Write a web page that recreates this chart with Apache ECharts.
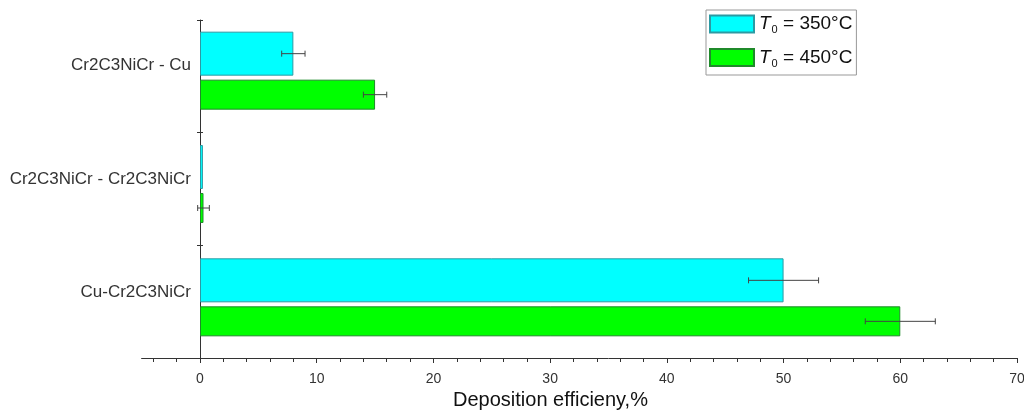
<!DOCTYPE html>
<html>
<head>
<meta charset="utf-8">
<script src="https://cdn.jsdelivr.net/npm/echarts@6/dist/echarts.min.js"></script>
<style>
  html, body { margin: 0; padding: 0; background: #fff; }
  #chart { width: 1024px; height: 412px; }
</style>
</head>
<body>
<div id="chart"></div>
<script>
// data, bottom to top
const categories = ['Cu-Cr2C3NiCr', 'Cr2C3NiCr - Cr2C3NiCr', 'Cr2C3NiCr - Cu'];
const eff350 = [50, 0.25, 8];
const eff450 = [60, 0.3, 15];
const err350 = [3, 0, 1];
const err450 = [3, 0.5, 1];
const xTicks = [0, 10, 20, 30, 40, 50, 60, 70];

const font = 'Liberation Sans, Arial, sans-serif';
const W350 = 44, W450 = 30, GAP = 4;
// centre offsets of each bar inside the group (first series on top)
const total = W350 + GAP + W450;
const off350 = -total / 2 + W350 / 2;
const off450 = -total / 2 + W350 + GAP + W450 / 2;

const chart = echarts.init(document.getElementById('chart'));

function errData(vals, errs) {
  return vals.map((v, i) => [i, v - errs[i], v + errs[i], errs[i]]);
}

function errRender(offset) {
  return function (params, api) {
    if (!api.value(3)) return null;
    const lo = api.coord([api.value(1), api.value(0)]);
    const hi = api.coord([api.value(2), api.value(0)]);
    const y = lo[1] + offset;
    const st = { stroke: '#444', lineWidth: 1 };
    return {
      type: 'group',
      children: [
        { type: 'line', shape: { x1: lo[0], y1: y, x2: hi[0], y2: y }, style: st },
        { type: 'line', shape: { x1: lo[0], y1: y - 3, x2: lo[0], y2: y + 3 }, style: st },
        { type: 'line', shape: { x1: hi[0], y1: y - 3, x2: hi[0], y2: y + 3 }, style: st }
      ]
    };
  };
}

const legendRich = {
  t: { fontFamily: font, fontSize: 19, fontStyle: 'italic', color: '#111' },
  s: { fontFamily: font, fontSize: 11, color: '#111', padding: [12, 0, 0, 1] },
  n: { fontFamily: font, fontSize: 19, color: '#111' }
};

const gridBase = { outerBoundsMode: 'none', containLabel: false };

chart.setOption({
  animation: false,
  backgroundColor: '#fff',
  legend: {
    data: ['T350', 'T450'],
    orient: 'vertical',
    left: 706,
    top: 10,
    itemWidth: 44,
    itemHeight: 17,
    itemGap: 12,
    padding: [4, 4, 6, 3],
    borderColor: '#999',
    borderWidth: 1,
    icon: 'rect',
    formatter: function (name) {
      return name === 'T350' ? '{t|T}{s|0}{n| = 350°C}' : '{t|T}{s|0}{n| = 450°C}';
    },
    textStyle: { rich: legendRich, lineHeight: 20 }
  },
  grid: [
    Object.assign({ left: 200, right: 7, top: 14, height: 340 }, gridBase),
    Object.assign({ left: 200, right: 7, top: 20, height: 338 }, gridBase),
    Object.assign({ left: 141.6, width: 58.4, top: 20, height: 338 }, gridBase),
    Object.assign({ left: 153.3, width: 23.35, top: 20, height: 338 }, gridBase)
  ],
  xAxis: [
    { gridIndex: 0, type: 'value', min: 0, max: 70, show: false },
    {
      gridIndex: 1, type: 'value', min: xTicks[0], max: xTicks[xTicks.length - 1], interval: 10,
      splitLine: { show: false },
      axisLine: { show: true, lineStyle: { color: '#333', width: 1 } },
      axisTick: { show: true, length: 5, lineStyle: { color: '#333' } },
      minorTick: { show: true, splitNumber: 5, length: 4, lineStyle: { color: '#333' } },
      axisLabel: { fontFamily: font, fontSize: 14, color: '#333', margin: 14 },
      name: 'Deposition efficieny,%',
      nameLocation: 'middle',
      nameGap: 27,
      nameTextStyle: { fontFamily: font, fontSize: 20, color: '#111', padding: [0, 116, 0, 0] }
    },
    {
      gridIndex: 2, type: 'value', min: -5, max: 0,
      splitLine: { show: false },
      axisLine: { show: true, lineStyle: { color: '#333', width: 1 } },
      axisTick: { show: false }, axisLabel: { show: false }
    },
    {
      gridIndex: 3, type: 'value', min: -4, max: -2, interval: 2,
      splitLine: { show: false },
      axisLine: { show: false },
      axisTick: { show: true, length: 4, lineStyle: { color: '#333' } },
      axisLabel: { show: false }
    }
  ],
  yAxis: [
    {
      gridIndex: 0, type: 'category', data: categories,
      axisLine: { show: false }, axisTick: { show: false },
      axisLabel: { fontFamily: font, fontSize: 17, color: '#333', margin: 9, verticalAlign: 'bottom', lineHeight: 10 }
    },
    {
      gridIndex: 1, type: 'category', data: categories,
      axisLine: { show: true, lineStyle: { color: '#333', width: 1 } },
      axisTick: { show: true, length: 3, lineStyle: { color: '#333' } },
      axisLabel: { show: false }
    },
    {
      gridIndex: 1, type: 'category', data: categories, position: 'left',
      axisLine: { show: false },
      axisTick: { show: true, inside: true, length: 3, lineStyle: { color: '#333' } },
      axisLabel: { show: false }
    },
    { gridIndex: 2, type: 'category', data: categories, show: false },
    { gridIndex: 3, type: 'category', data: categories, show: false }
  ],
  series: [
    {
      name: 'T350', type: 'bar', xAxisIndex: 0, yAxisIndex: 0,
      data: eff350, barWidth: W350, barGap: (GAP / W350 * 100) + '%',
      itemStyle: { color: '#00FFFF', borderColor: '#2C9AA3', borderWidth: 1 }
    },
    {
      name: 'T450', type: 'bar', xAxisIndex: 0, yAxisIndex: 0,
      data: eff450, barWidth: W450, barGap: (GAP / W350 * 100) + '%',
      itemStyle: { color: '#00FF00', borderColor: '#1F8A2A', borderWidth: 1 }
    },
    {
      type: 'custom', name: 'err350', xAxisIndex: 0, yAxisIndex: 0, z: 5, silent: true,
      data: errData(eff350, err350), renderItem: errRender(off350)
    },
    {
      type: 'custom', name: 'err450', xAxisIndex: 0, yAxisIndex: 0, z: 5, silent: true,
      data: errData(eff450, err450), renderItem: errRender(off450)
    }
  ]
});
</script>
</body>
</html>
